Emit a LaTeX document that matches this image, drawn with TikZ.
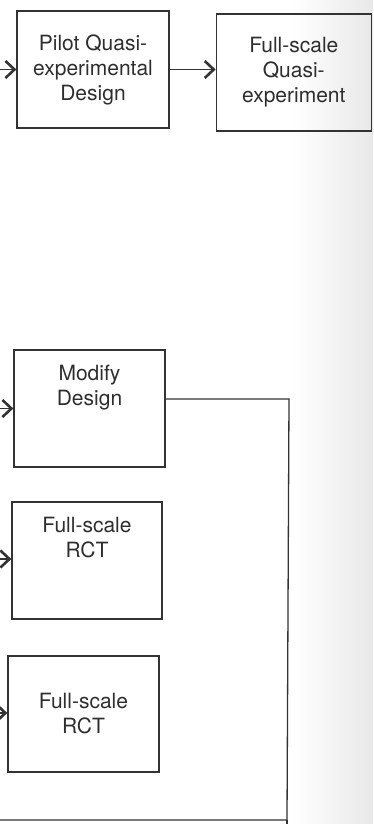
\documentclass[tikz,border=0pt]{standalone}
\usepackage{fontspec}
\setmainfont{TeX Gyre Heros}
\usetikzlibrary{positioning, arrows.meta}

\begin{document}
\begin{tikzpicture}[x=1pt, y=-1pt, font=\fontsize{21}{25}\selectfont, node distance=0pt]
    \tikzset{stage/.style={draw=black!80, line width=1.3pt, text=black!82, align=center,
               minimum width=152pt, minimum height=117pt, inner sep=2pt},
             link/.style={draw=black!80, line width=1.3pt},
             flow/.style={link, -{Straight Barb[length=9pt, width=17pt, line width=2.6pt]}}}
    % page frame and scan shadow at the right edge
    \useasboundingbox (0,0) rectangle (373,824);
    \fill[left color=white, right color=black!9] (292,0) rectangle (373,824);

    \node[stage] (pilot) at (93,69.5) {Pilot Quasi-\\experimental\\Design};
    \node[stage, right=46pt of pilot, minimum width=155pt, yshift=-3pt] (fullqe)
      {Full-scale\\Quasi-\\experiment};
    \node[stage, minimum width=151pt] (modify) at (89.5,408.5) {Modify\\Design\\[22pt]};
    \node[stage, minimum width=150pt] (rct1) at (87,560.5) {Full-scale\\RCT\\[22pt]};
    \node[stage, minimum width=151pt, minimum height=116pt] (rct2) at (83.5,714) {Full-scale\\RCT};

    % entries from the left margin
    \coordinate (inpilot) at (0,69.5);
    \coordinate (inmodify) at (0,408.5);
    \coordinate (inrct1) at (0,559);
    \coordinate (inrct2) at (0,713);
    \draw[flow] (inpilot) -- (pilot.west);
    \draw[flow] (pilot.east) -- (fullqe.west |- pilot.east);
    \draw[flow] (inmodify) -- (modify.west);
    \draw[flow] (inrct1) -- (rct1.west |- inrct1);
    \draw[flow] (inrct2) -- (rct2.west |- inrct2);

    % loop back from Modify Design
    \coordinate (fb) at (289,399);
    \coordinate (corner) at (287,820);
    \coordinate (back) at (0,820);
    \draw[link] (modify.east |- fb) -- (fb) -- (corner) -- (back);
    \draw[link] (corner) -- ++(0,4);
\end{tikzpicture}
\end{document}
